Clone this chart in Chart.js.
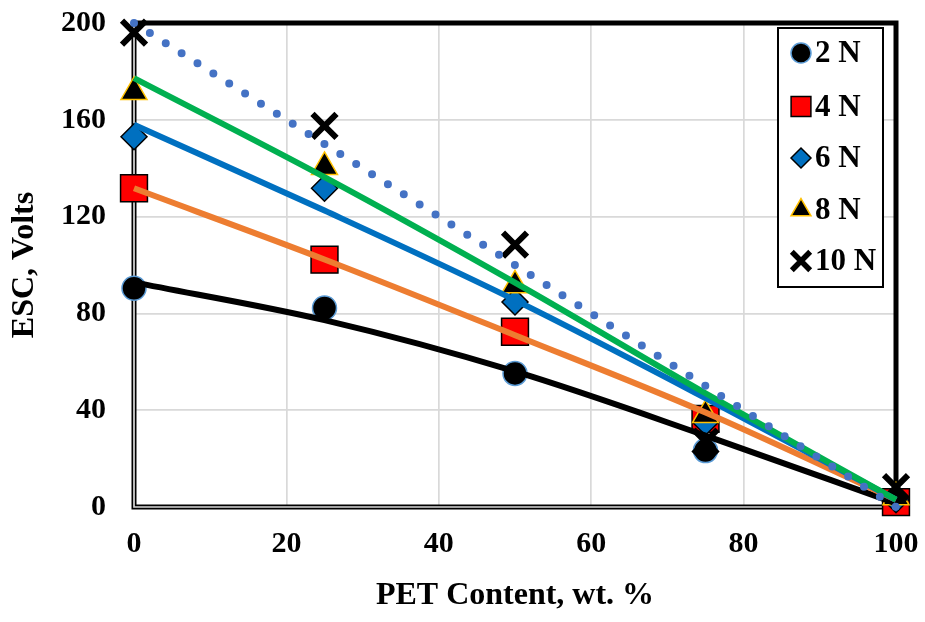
<!DOCTYPE html>
<html>
<head>
<meta charset="utf-8">
<script src="https://cdn.jsdelivr.net/npm/chart.js"></script>
<style>
  html, body { margin: 0; padding: 0; background: #fff; }
  #wrap { width: 925px; height: 622px; }
</style>
</head>
<body>
<div id="wrap"><canvas id="escChart" width="925" height="622"></canvas></div>
<script>
// PET content (wt. %) at which ESC was measured
const petContent = [0, 25, 50, 75, 100];

// measured ESC (Volts) for each load
const esc2N = [90.4, 82.2, 55.2, 23.3, 2];
const esc4N = [131.7, 102.2, 72.4, 36.4, 2];
const esc6N = [153, 131.7, 84.7, 35, 3];
const esc8N = [171.5, 140.5, 91.6, 38, 4];
const esc10N = [196, 157.5, 108.4, 27, 8.2];

// trendlines at the same x positions
const trend2N = [92.8, 77.2, 56, 29.5, 1.5];
const trend4N = [131.7, 102.3, 71, 39, 3];
const trend6N = [158, 122.5, 85.5, 45, 3];
const trend8N = [177.2, 136.3, 92.7, 47, 3];
const trend10N = [200, 150, 100, 50, 0];

const loadLabels = ["2 N", "4 N", "6 N", "8 N", "10 N"];
const xTicks = [0, 20, 40, 60, 80, 100];
const yTicks = [0, 40, 80, 120, 160, 200];

const SERIF = "'Liberation Serif', 'Times New Roman', serif";
const TICK_FONT = { family: SERIF, size: 30, weight: "bold" };
const TITLE_FONT = { family: SERIF, size: 32, weight: "bold" };

const toPoints = (ys) => ys.map((y, i) => ({ x: petContent[i], y: y }));

// marker look per series
const markerStyles = [
  { pointStyle: "circle", radius: 12, fill: "#000000", stroke: "#5B9BD5", width: 1.5, legendRadius: 10 },
  { pointStyle: "rect", radius: 19, fill: "#FF0000", stroke: "#000000", width: 1.5, legendRadius: 14 },
  { pointStyle: "rectRot", radius: 13, fill: "#0070C0", stroke: "#000000", width: 1.5, legendRadius: 10 },
  { pointStyle: "triangle", radius: 15, fill: "#000000", stroke: "#FFC000", width: 1.5, legendRadius: 11.5 },
  { pointStyle: "crossRot", radius: 17, fill: "#000000", stroke: "#000000", width: 6, legendRadius: 13 },
];

const seriesValues = [esc2N, esc4N, esc6N, esc8N, esc10N];
const trendValues = [trend2N, trend4N, trend6N, trend8N, trend10N];
const trendColors = ["#000000", "#ED7D31", "#0070C0", "#00B050", "#4472C4"];

const datasets = [];
seriesValues.forEach((vals, i) => {
  const m = markerStyles[i];
  datasets.push({
    label: loadLabels[i],
    data: toPoints(vals),
    showLine: false,
    clip: false,
    pointStyle: m.pointStyle,
    pointRadius: m.radius,
    pointHoverRadius: m.radius,
    pointBackgroundColor: m.fill,
    pointBorderColor: m.stroke,
    pointBorderWidth: m.width,
    order: 20 - i,
  });
});
trendValues.forEach((vals, i) => {
  const dotted = i === 4;
  datasets.push({
    label: loadLabels[i] + " trend",
    data: toPoints(vals),
    showLine: true,
    clip: false,
    pointRadius: 0,
    pointHoverRadius: 0,
    borderColor: trendColors[i],
    borderWidth: dotted ? 8 : 6,
    borderDash: dotted ? [0, 18.8] : [],
    borderCapStyle: dotted ? "round" : "butt",
    cubicInterpolationMode: "monotone",
    order: 10 - i,
  });
});

// black frame round the plot area, gray gridline kept on the left and bottom edges
const plotFrame = {
  id: "plotFrame",
  beforeDatasetsDraw(chart) {
    const { ctx, chartArea: a } = chart;
    ctx.save();
    ctx.strokeStyle = "#000000";
    ctx.lineWidth = 5;
    ctx.strokeRect(a.left, a.top, a.right - a.left, a.bottom - a.top);
    ctx.strokeStyle = "#D9D9D9";
    ctx.lineWidth = 1.7;
    ctx.beginPath();
    ctx.moveTo(a.left, a.top + 2.5);
    ctx.lineTo(a.left, a.bottom);
    ctx.lineTo(a.right - 2.5, a.bottom);
    ctx.stroke();
    ctx.restore();
  },
};

// boxed legend inside the plot, upper right
const boxLegend = {
  id: "boxLegend",
  afterDraw(chart) {
    const { ctx } = chart;
    const box = { x: 778, y: 28, w: 105, h: 259 };
    const itemY = [53, 106.5, 158, 210, 261];
    ctx.save();
    ctx.fillStyle = "#ffffff";
    ctx.fillRect(box.x, box.y, box.w, box.h);
    ctx.strokeStyle = "#000000";
    ctx.lineWidth = 2;
    ctx.strokeRect(box.x, box.y, box.w, box.h);
    loadLabels.forEach((label, i) => {
      const m = markerStyles[i];
      ctx.fillStyle = m.fill;
      ctx.strokeStyle = m.stroke;
      ctx.lineWidth = m.width === 6 ? 5.5 : m.width;
      Chart.helpers.drawPoint(ctx, {
        pointStyle: m.pointStyle, radius: m.legendRadius, rotation: 0, borderWidth: m.width,
      }, 801, itemY[i]);
      ctx.fillStyle = "#000000";
      ctx.font = "bold 31px " + SERIF;
      ctx.textBaseline = "middle";
      ctx.textAlign = "left";
      ctx.fillText(label, 815, itemY[i] + 1);
    });
    ctx.restore();
  },
};

// keep the plot area where the reference has it: no extra room for label overhang
const noOverhang = (s) => {
  s.paddingTop = 0;
  s.paddingBottom = 0;
  s.paddingLeft = 0;
  s.paddingRight = 0;
};

const chart = new Chart(document.getElementById("escChart").getContext("2d"), {
  type: "scatter",
  data: { datasets: datasets },
  options: {
    responsive: false,
    animation: false,
    devicePixelRatio: 1,
    layout: { padding: { top: 18, right: 29, left: 0, bottom: 0 } },
    plugins: { legend: { display: false }, tooltip: { enabled: false } },
    scales: {
      x: {
        type: "linear",
        min: 0,
        max: 100,
        afterBuildTicks: (s) => { s.ticks = xTicks.map((v) => ({ value: v })); },
        afterFit: (s) => { s.height = 115; noOverhang(s); },
        ticks: { color: "#000", font: TICK_FONT, padding: 19, maxRotation: 0 },
        grid: { color: "#D9D9D9", lineWidth: 1.7, drawTicks: false },
        border: { display: false },
        title: {
          display: true, text: "PET Content, wt. %", color: "#000", font: TITLE_FONT,
          padding: { top: 0, bottom: 7 },
        },
      },
      y: {
        type: "linear",
        min: 0,
        max: 200,
        afterBuildTicks: (s) => { s.ticks = yTicks.map((v) => ({ value: v })); },
        afterFit: (s) => { s.width = 134; noOverhang(s); },
        ticks: { color: "#000", font: TICK_FONT, padding: 28 },
        grid: { color: "#D9D9D9", lineWidth: 1.7, drawTicks: false },
        border: { display: false },
        title: {
          display: true, text: "ESC, Volts", color: "#000", font: TITLE_FONT,
          padding: { top: 6, bottom: 0 },
        },
      },
    },
  },
  plugins: [plotFrame, boxLegend],
});
</script>
</body>
</html>
